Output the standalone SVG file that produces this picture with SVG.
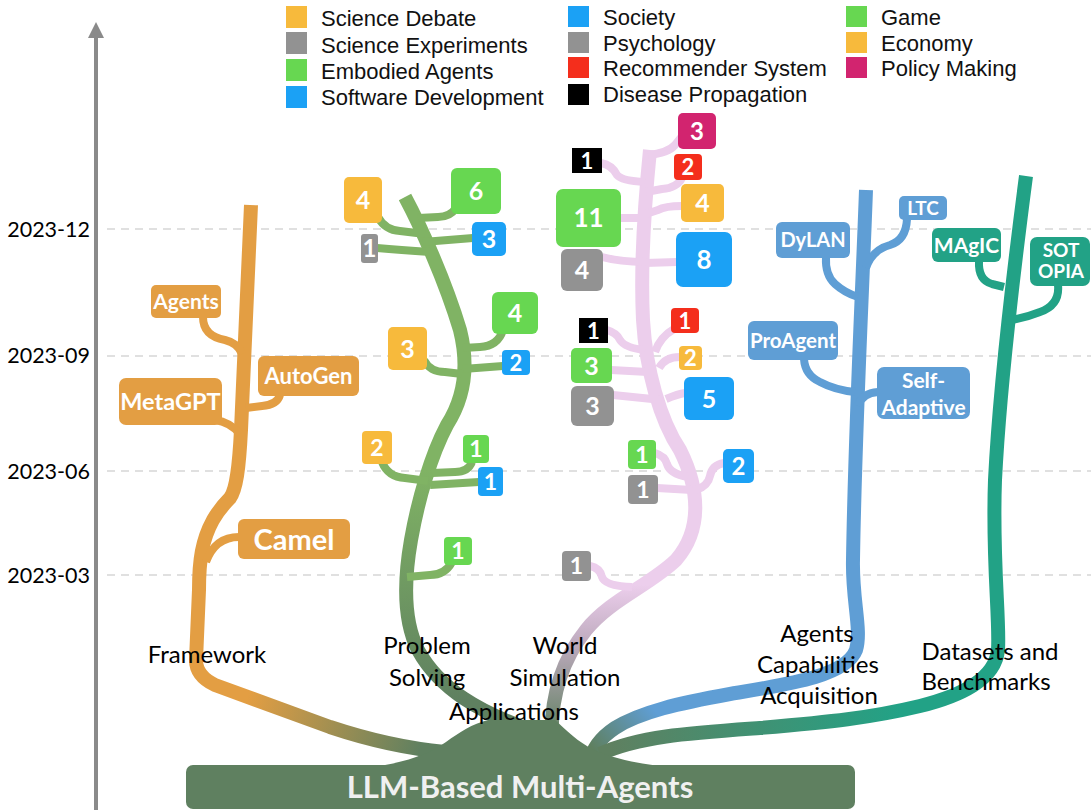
<svg xmlns="http://www.w3.org/2000/svg" width="1091" height="810" viewBox="0 0 1091 810">
<defs>
  <linearGradient id="gFw" gradientUnits="userSpaceOnUse" x1="250" y1="690" x2="420" y2="750">
    <stop offset="0" stop-color="#E39E43"/><stop offset="1" stop-color="#5F8060"/>
  </linearGradient>
  <linearGradient id="gPs" gradientUnits="userSpaceOnUse" x1="0" y1="470" x2="0" y2="700">
    <stop offset="0" stop-color="#80B364"/><stop offset="1" stop-color="#5F8060"/>
  </linearGradient>
  <linearGradient id="gWs" gradientUnits="userSpaceOnUse" x1="0" y1="585" x2="0" y2="735">
    <stop offset="0" stop-color="#ECCEEC"/><stop offset="0.4" stop-color="#BDAABD"/><stop offset="1" stop-color="#5F8060"/>
  </linearGradient>
  <linearGradient id="gAc" gradientUnits="userSpaceOnUse" x1="650" y1="705" x2="596" y2="752">
    <stop offset="0" stop-color="#5F9ED5"/><stop offset="1" stop-color="#5F8060"/>
  </linearGradient>
  <linearGradient id="gDb" gradientUnits="userSpaceOnUse" x1="900" y1="0" x2="610" y2="0">
    <stop offset="0" stop-color="#22A286"/><stop offset="1" stop-color="#5F8060"/>
  </linearGradient>
  <marker id="axisArrow" markerWidth="4" markerHeight="4" refX="1" refY="2" orient="auto" markerUnits="strokeWidth">
    <path d="M0,0 L4,2 L0,4 Z" fill="#8A8A8A"/>
  </marker>
</defs>
<style>
  .grid { stroke:#D6D6D6; stroke-width:1.5; stroke-dasharray:8 6; fill:none }
  .tick { font-family:Lato, "Open Sans", sans-serif; font-size:21.5px; fill:#000; text-anchor:end }
  .leg { font-family:"Liberation Sans", Arial, sans-serif; font-size:22px; fill:#111 }
  .cat { font-family:Lato, "Open Sans", sans-serif; font-size:24px; fill:#000; text-anchor:middle }
  .trunk { fill:none; stroke-width:14; stroke-linecap:butt; stroke-linejoin:round }
  .br { fill:none; stroke-width:8; stroke-linecap:butt; stroke-linejoin:round }
  .fw { stroke:#E39E43 } .ps { stroke:#80B364 } .ws { stroke:#ECCEEC } .ac { stroke:#5F9ED5 } .db { stroke:#22A286 }
  .t { font-family:Lato, "Open Sans", sans-serif; font-weight:700; fill:#fff; text-anchor:middle }
  .cDeb { fill:#F7BA3C } .cGray { fill:#929292 } .cGreen { fill:#67D751 } .cBlue { fill:#1BA1F5 }
  .cRed { fill:#F42E1C } .cBlack { fill:#000 } .cPink { fill:#D2246F }
  .cFw { fill:#E39E43 } .cAc { fill:#5F9ED5 } .cDb { fill:#22A286 }
</style>
<rect width="1091" height="810" fill="#fff"/>

<g id="grid">
  <line class="grid" x1="107" y1="229" x2="1091" y2="229"/>
  <line class="grid" x1="107" y1="356" x2="1091" y2="356"/>
  <line class="grid" x1="107" y1="471" x2="1091" y2="471"/>
  <line class="grid" x1="107" y1="575" x2="1091" y2="575"/>
</g>
<g id="axis">
  <line x1="96" y1="810" x2="96" y2="34" stroke="#8A8A8A" stroke-width="4" marker-end="url(#axisArrow)"/>
  <text class="tick" x="90" y="237">2023-12</text>
  <text class="tick" x="90" y="363">2023-09</text>
  <text class="tick" x="90" y="479">2023-06</text>
  <text class="tick" x="90" y="583">2023-03</text>
</g>

<g id="legend">
  <rect class="cDeb" x="286" y="6" width="21" height="22"/><text class="leg" x="321" y="26">Science Debate</text>
  <rect class="cGray" x="286" y="32" width="21" height="22"/><text class="leg" x="321" y="52.5">Science Experiments</text>
  <rect class="cGreen" x="286" y="59" width="21" height="22"/><text class="leg" x="321" y="79">Embodied Agents</text>
  <rect class="cBlue" x="286" y="86" width="21" height="22"/><text class="leg" x="321" y="105">Software Development</text>
  <rect class="cBlue" x="568" y="6" width="21" height="21"/><text class="leg" x="603" y="25">Society</text>
  <rect class="cGray" x="568" y="32" width="21" height="21"/><text class="leg" x="603" y="51">Psychology</text>
  <rect class="cRed" x="568" y="57" width="21" height="21"/><text class="leg" x="603" y="76">Recommender System</text>
  <rect class="cBlack" x="568" y="84" width="21" height="21"/><text class="leg" x="603" y="102">Disease Propagation</text>
  <rect class="cGreen" x="846" y="6" width="21" height="21"/><text class="leg" x="881" y="25">Game</text>
  <rect class="cDeb" x="846" y="32" width="21" height="21"/><text class="leg" x="881" y="51">Economy</text>
  <rect class="cPink" x="846" y="57" width="21" height="21"/><text class="leg" x="881" y="76">Policy Making</text>
</g>

<g id="connectors">
  <!-- Framework -->
  <path class="trunk" stroke="url(#gFw)" d="M251,205 L241,430 C239,470 236,490 230,498 Q220,508 213,520 C202,540 199,560 199,590 L196,660 Q196,676 215,685 L330,727 Q390,747 445,752"/>
  <path class="br fw" d="M203,317 Q203,336 225,340 Q238,343 242,354"/>
  <path class="br fw" d="M280,395 Q277,405 262,406 L246,408"/>
  <path class="br fw" d="M215,420 Q230,422 240,434"/>
  <path class="br fw" d="M239,537 Q215,537 206,562"/>
  <!-- Problem Solving -->
  <path class="trunk" stroke="url(#gPs)" d="M405,197 C420,225 445,280 460,330 C470,370 463,400 447,425 C431,455 418,500 411,540 C404,580 403,620 418,650 C440,690 480,712 530,730"/>
  <path class="br ps" d="M378,217 Q385,230 400,231 L425,234"/>
  <path class="br ps" d="M456,208 Q450,217 438,217 L418,218"/>
  <path class="br ps" d="M473,238 L423,242"/>
  <path class="br ps" d="M377,248 Q400,250 430,252"/>
  <path class="br ps" d="M503,330 Q498,346 480,347 L463,348"/>
  <path class="br ps" d="M424,360 Q430,372 445,372 L462,374"/>
  <path class="br ps" d="M503,366 L463,369"/>
  <path class="br ps" d="M382,462 Q388,477 405,478 L428,481"/>
  <path class="br ps" d="M472,462 Q468,472 455,472 L432,473"/>
  <path class="br ps" d="M479,482 L430,485"/>
  <path class="br ps" d="M452,562 Q445,575 430,575 L407,577"/>
  <!-- World Simulation -->
  <path class="trunk" stroke="url(#gWs)" d="M650,150 C645,200 640,260 643,320 C646,370 660,420 680,450 C700,490 702,530 676,560 C650,585 610,600 586,630 C562,660 549,700 552,748"/>
  <path class="br ws" d="M648,155 Q668,153 675,145 L683,135"/>
  <path class="br ws" d="M601,163 Q612,165 617,175 Q622,181 645,182"/>
  <path class="br ws" d="M682,178 Q677,188 662,189 L646,192"/>
  <path class="br ws" d="M682,206 Q665,206 658,210 L646,214"/>
  <path class="br ws" d="M620,218 L645,218"/>
  <path class="br ws" d="M602,257 Q620,262 645,262"/>
  <path class="br ws" d="M677,262 L645,263"/>
  <path class="br ws" d="M607,330 Q617,333 620,340 Q625,348 645,350"/>
  <path class="br ws" d="M674,329 Q660,337 655,352"/>
  <path class="br ws" d="M611,370 L648,372"/>
  <path class="br ws" d="M680,357 Q665,357 659,368"/>
  <path class="br ws" d="M613,395 L662,400"/>
  <path class="br ws" d="M685,393 Q678,394 666,399"/>
  <path class="br ws" d="M655,453 Q665,456 667,464 Q670,474 688,477"/>
  <path class="br ws" d="M657,488 L692,490"/>
  <path class="br ws" d="M724,463 Q712,465 710,476 Q708,486 696,490"/>
  <path class="br ws" d="M590,566 Q600,568 602,577 Q605,586 632,587"/>
  <!-- Agents Capabilities Acquisition -->
  <path class="trunk" stroke="url(#gAc)" d="M866,190 C862,300 855,430 853,560 C852,600 862,630 856,650 C846,676 790,684 730,694 C680,703 640,712 615,728 C600,738 592,750 590,762"/>
  <path class="br ac" d="M826,257 Q825,275 835,284 Q845,293 858,297"/>
  <path class="br ac" d="M907,219 Q906,240 890,245 Q872,250 866,268"/>
  <path class="br ac" d="M804,359 Q805,375 820,382 Q835,390 855,392"/>
  <path class="br ac" d="M878,392 Q862,393 858,406"/>
  <!-- Datasets and Benchmarks -->
  <path class="trunk" stroke="url(#gDb)" d="M1026,176 C1015,260 1000,380 995,480 C992,560 1000,620 998,650 C995,680 960,696 920,706 C870,718 830,722 760,728 C690,733 640,736 600,754"/>
  <path class="br db" d="M979,261 Q978,280 992,284 L1004,287"/>
  <path class="br db" d="M1058,285 Q1060,305 1040,312 Q1025,318 1006,321"/>
</g>

<g id="root">
  <path fill="#5F8060" d="M372,767 C410,762 432,752 446,742 C460,732 472,724 488,720 L555,720 C566,730 578,742 594,750 C615,759 640,764 668,767 Z"/>
  <rect x="186" y="765" width="669" height="44" rx="7" fill="#5F8060"/>
  <text x="520" y="798" font-family="Lato, 'Open Sans', sans-serif" font-weight="700" font-size="31" fill="#F0F0F0" text-anchor="middle">LLM-Based Multi-Agents</text>
</g>

<!-- Framework nodes -->
<g id="n-agents"><rect class="cFw" x="151" y="285" width="70" height="33" rx="5"/><text class="t" x="186" y="309" font-size="21">Agents</text></g>
<g id="n-autogen"><rect class="cFw" x="258" y="356" width="101" height="40" rx="6"/><text class="t" x="308.5" y="384" font-size="22">AutoGen</text></g>
<g id="n-metagpt"><rect class="cFw" x="119" y="378" width="103" height="47" rx="7"/><text class="t" x="170.5" y="410" font-size="23.5">MetaGPT</text></g>
<g id="n-camel"><rect class="cFw" x="238" y="519" width="112" height="40" rx="6"/><text class="t" x="294" y="550" font-size="29">Camel</text></g>

<!-- Problem Solving nodes -->
<g id="ps-1"><rect class="cDeb" x="344" y="177" width="38" height="46" rx="5"/><text class="t" x="363" y="209" font-size="25">4</text></g>
<g id="ps-2"><rect class="cGreen" x="451" y="168" width="50" height="46" rx="6"/><text class="t" x="476" y="200" font-size="25">6</text></g>
<g id="ps-3"><rect class="cBlue" x="472" y="222" width="34" height="34" rx="5"/><text class="t" x="489" y="248" font-size="25">3</text></g>
<g id="ps-4"><rect class="cGray" x="361" y="234" width="17" height="29" rx="3"/><text class="t" x="369.5" y="257" font-size="24">1</text></g>
<g id="ps-5"><rect class="cGreen" x="492" y="292" width="46" height="42" rx="6"/><text class="t" x="515" y="322" font-size="25">4</text></g>
<g id="ps-6"><rect class="cDeb" x="388" y="327" width="39" height="43" rx="5"/><text class="t" x="407.5" y="357.5" font-size="25">3</text></g>
<g id="ps-7"><rect class="cBlue" x="502" y="350" width="28" height="25" rx="4"/><text class="t" x="516" y="370.5" font-size="22">2</text></g>
<g id="ps-8"><rect class="cDeb" x="362" y="431" width="30" height="33" rx="4"/><text class="t" x="377" y="456" font-size="23">2</text></g>
<g id="ps-9"><rect class="cGreen" x="463" y="435" width="26" height="28" rx="4"/><text class="t" x="476" y="457" font-size="23">1</text></g>
<g id="ps-10"><rect class="cBlue" x="478" y="467" width="25" height="29" rx="4"/><text class="t" x="490.5" y="490" font-size="23">1</text></g>
<g id="ps-11"><rect class="cGreen" x="444" y="537" width="28" height="28" rx="4"/><text class="t" x="458" y="559" font-size="23">1</text></g>

<!-- World Simulation nodes -->
<g id="ws-1"><rect class="cPink" x="678" y="113" width="38" height="36" rx="5"/><text class="t" x="697" y="139.6" font-size="24">3</text></g>
<g id="ws-2"><rect class="cBlack" x="572" y="148" width="30" height="25"/><text class="t" x="587" y="168.5" font-size="22">1</text></g>
<g id="ws-3"><rect class="cRed" x="674" y="154" width="28" height="26" rx="4"/><text class="t" x="688" y="175" font-size="22">2</text></g>
<g id="ws-4"><rect class="cDeb" x="681" y="184" width="43" height="38" rx="5"/><text class="t" x="702.5" y="212" font-size="25">4</text></g>
<g id="ws-5"><rect class="cGreen" x="556" y="189" width="65" height="58" rx="7"/><text class="t" x="588.5" y="227.4" font-size="26">11</text></g>
<g id="ws-6"><rect class="cGray" x="561" y="249" width="42" height="42" rx="6"/><text class="t" x="582" y="279" font-size="25">4</text></g>
<g id="ws-7"><rect class="cBlue" x="676" y="232" width="56" height="55" rx="7"/><text class="t" x="704" y="269" font-size="26">8</text></g>
<g id="ws-8"><rect class="cBlack" x="579" y="318" width="29" height="25"/><text class="t" x="593.5" y="338.5" font-size="22">1</text></g>
<g id="ws-9"><rect class="cRed" x="671" y="308" width="28" height="25" rx="4"/><text class="t" x="685" y="328.5" font-size="22">1</text></g>
<g id="ws-10"><rect class="cGreen" x="571" y="348" width="41" height="35" rx="5"/><text class="t" x="591.5" y="374.5" font-size="25">3</text></g>
<g id="ws-11"><rect class="cDeb" x="679" y="346" width="23" height="24" rx="4"/><text class="t" x="690.5" y="366" font-size="22">2</text></g>
<g id="ws-12"><rect class="cGray" x="571" y="386" width="43" height="40" rx="6"/><text class="t" x="592.5" y="415" font-size="25">3</text></g>
<g id="ws-13"><rect class="cBlue" x="684" y="377" width="50" height="43" rx="6"/><text class="t" x="709" y="407.5" font-size="25">5</text></g>
<g id="ws-14"><rect class="cGreen" x="628" y="440" width="28" height="29" rx="4"/><text class="t" x="642" y="463" font-size="23">1</text></g>
<g id="ws-15"><rect class="cGray" x="628" y="475" width="30" height="29" rx="4"/><text class="t" x="643" y="498" font-size="23">1</text></g>
<g id="ws-16"><rect class="cBlue" x="723" y="449" width="31" height="34" rx="5"/><text class="t" x="738.5" y="474.6" font-size="24">2</text></g>
<g id="ws-17"><rect class="cGray" x="562" y="551" width="29" height="30" rx="4"/><text class="t" x="576.5" y="574" font-size="23">1</text></g>

<!-- Agents Capabilities Acquisition nodes -->
<g id="n-dylan"><rect class="cAc" x="776" y="222" width="74" height="36" rx="6"/><text class="t" x="813" y="247" font-size="20">DyLAN</text></g>
<g id="n-ltc"><rect class="cAc" x="899" y="196" width="48" height="24" rx="5"/><text class="t" x="923" y="215" font-size="19">LTC</text></g>
<g id="n-proagent"><rect class="cAc" x="748" y="321" width="90" height="39" rx="6"/><text class="t" x="793" y="348" font-size="20.5">ProAgent</text></g>
<g id="n-selfadaptive"><rect class="cAc" x="877" y="367" width="93" height="52" rx="7"/><text class="t" x="923.5" y="388" font-size="21">Self-</text><text class="t" x="923.5" y="415" font-size="21">Adaptive</text></g>

<!-- Datasets and Benchmarks nodes -->
<g id="n-magic"><rect class="cDb" x="932" y="228" width="69" height="34" rx="6"/><text class="t" x="966.5" y="253" font-size="21">MAgIC</text></g>
<g id="n-sotopia"><rect class="cDb" x="1030" y="237" width="60" height="49" rx="7"/><text class="t" x="1061" y="257" font-size="19">SOT</text><text class="t" x="1061" y="278" font-size="19">OPIA</text></g>

<g id="labels">
  <text class="cat" x="207" y="663">Framework</text>
  <text class="cat" x="427" y="654">Problem</text>
  <text class="cat" x="427" y="686">Solving</text>
  <text class="cat" x="565" y="654">World</text>
  <text class="cat" x="565" y="686">Simulation</text>
  <text class="cat" x="514" y="720">Applications</text>
  <text class="cat" x="817" y="642">Agents</text>
  <text class="cat" x="818" y="673">Capabilities</text>
  <text class="cat" x="819" y="704">Acquisition</text>
  <text class="cat" x="990" y="660">Datasets and</text>
  <text class="cat" x="986" y="690">Benchmarks</text>
</g>
</svg>
